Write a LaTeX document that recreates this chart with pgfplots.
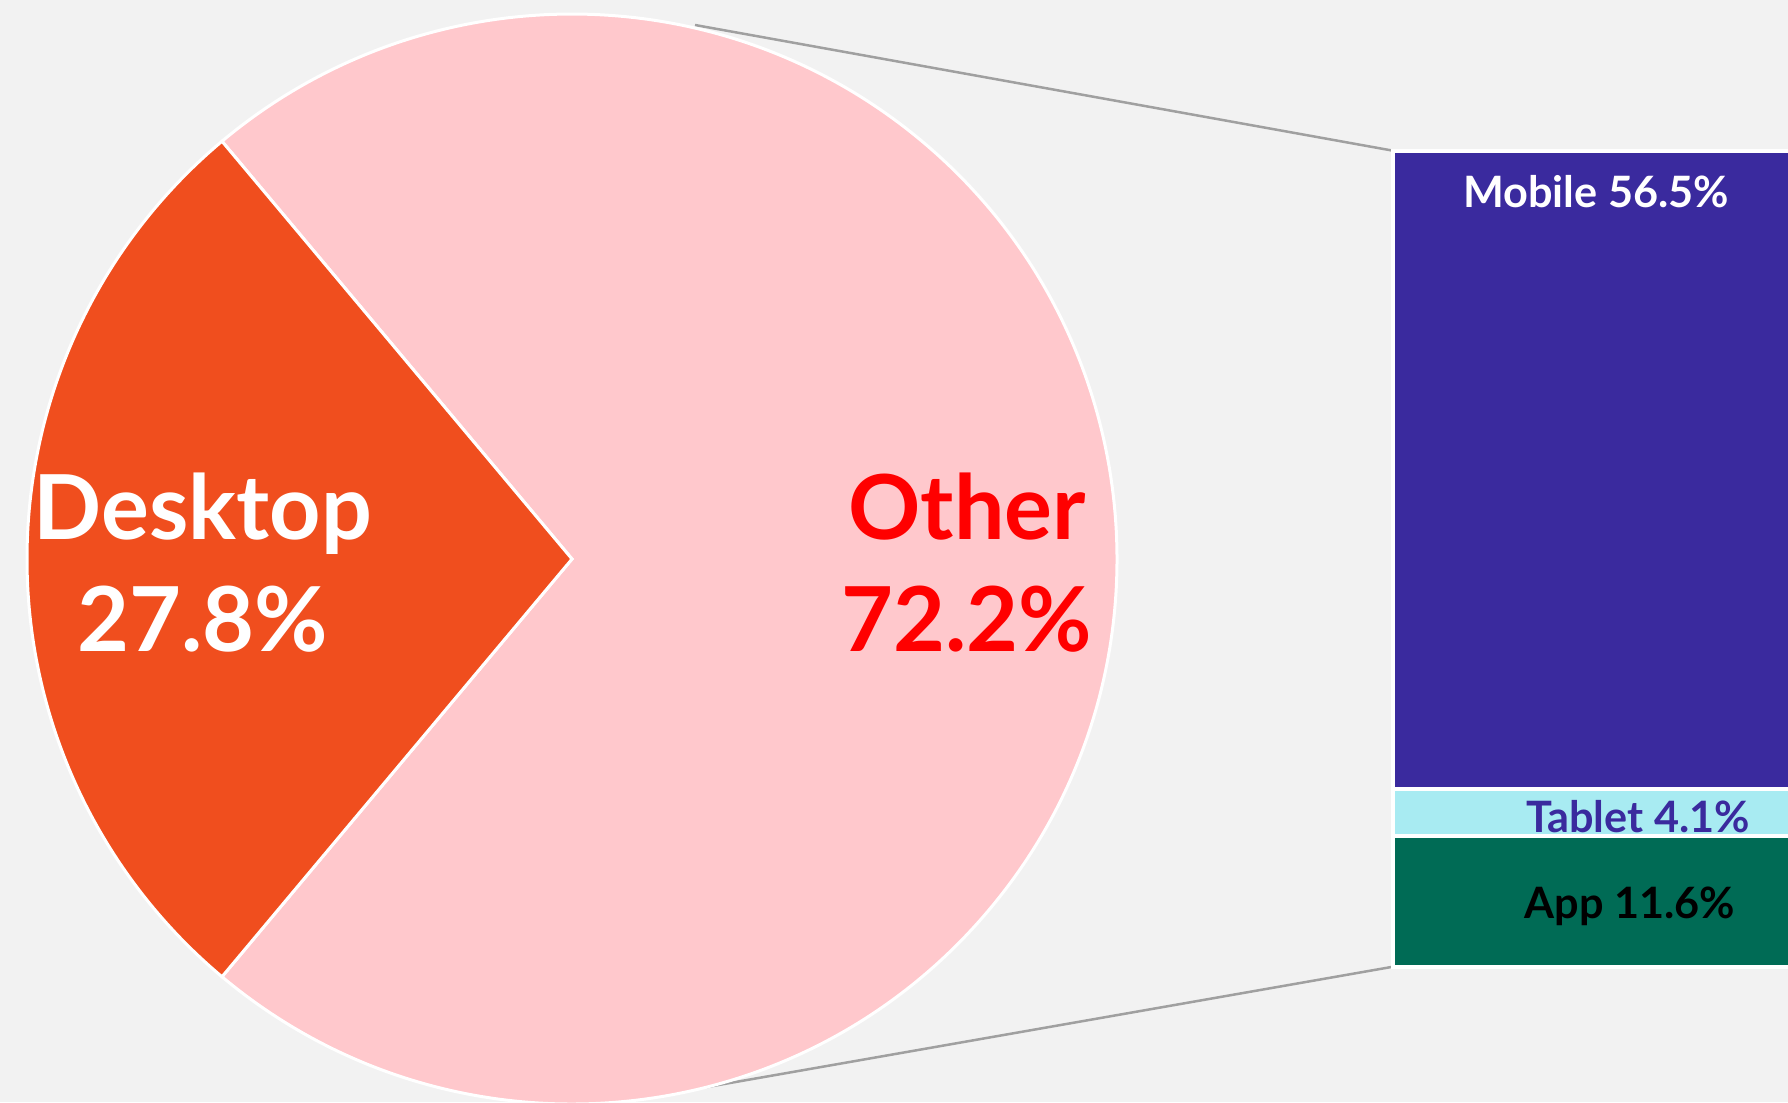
\documentclass[border=0pt]{standalone}
\usepackage{pgfplots}
\pgfplotsset{compat=1.18}
\usepackage{pgfplotstable}
\usepackage{fontspec}
\setmainfont{Lato}
\definecolor{bg}{HTML}{F2F2F2}
\definecolor{desk}{HTML}{F04E1E}
\definecolor{other}{HTML}{FFC8CC}
\definecolor{mob}{HTML}{3A2A9E}
\definecolor{tab}{HTML}{A8EBF2}
\definecolor{app}{HTML}{006B55}
\definecolor{otxt}{HTML}{FF0000}
\definecolor{conn}{HTML}{A0A0A0}

\pgfplotstableread{
part share
Desktop 27.8
Other 72.2
}\pietable
\pgfplotstableread{
x app tablet mobile
0 11.6 4.1 56.5
}\bartable

\begin{document}
\begin{tikzpicture}
\useasboundingbox (0,0) rectangle (178.8mm,110.2mm);
\clip (0,0) rectangle (178.8mm,110.2mm);
\fill[bg] (0,0) rectangle (178.8mm,110.2mm);

\pgfplotstablegetelem{0}{share}\of\pietable
\pgfmathsetmacro{\half}{\pgfplotsretval*1.8}
\pgfmathsetmacro{\aA}{180-\half}
\pgfmathsetmacro{\aB}{180+\half}
\pgfmathsetmacro{\aC}{180-\half+360}

\begin{axis}[at={(0mm,0mm)}, anchor=south west, width=178.8mm, height=110.2mm,
  scale only axis, xmin=0, xmax=1788, ymin=0, ymax=1102, hide axis, clip=false]
\addplot[draw=none] coordinates {(0,0) (1788,1102)};
\draw[conn, line width=0.25mm] (axis cs:695,1077) -- (axis cs:1393,951.3);
\draw[conn, line width=0.25mm] (axis cs:707,15) -- (axis cs:1393,135.3);
\path[fill=other, draw=white, line width=0.3mm] (axis cs:572,543) -- ++(\aB:54.5mm)
  arc[start angle=\aB, end angle=\aC, radius=54.5mm] -- cycle;
\path[fill=desk, draw=white, line width=0.3mm] (axis cs:572,543) -- ++(\aA:54.5mm)
  arc[start angle=\aA, end angle=\aB, radius=54.5mm] -- cycle;
\end{axis}

\begin{axis}[at={(139.3mm,13.53mm)}, anchor=south west, width=40.6mm, height=81.6mm,
  scale only axis, xmin=-0.5, xmax=0.5, ymin=0, ymax=72.2, hide axis,
  ybar stacked, bar width=40.6mm, clip=false]
\addplot[fill=app, draw=white, line width=0.4mm] table[x=x,y=app]{\bartable};
\addplot[fill=tab, draw=white, line width=0.4mm] table[x=x,y=tablet]{\bartable};
\addplot[fill=mob, draw=white, line width=0.4mm] table[x=x,y=mobile]{\bartable};
\end{axis}

\begin{scope}[x=0.1mm,y=0.1mm]
\tikzset{big/.style={anchor=base, font=\bfseries\fontsize{25.5}{30}\selectfont},
         small/.style={anchor=base, font=\bfseries\fontsize{12.3}{15}\selectfont}}
\node[big, text=white] at (203,562) {Desktop};
\node[big, text=white] at (203,451) {27.8\%};
\node[big, text=otxt] at (967,562) {Other};
\node[big, text=otxt] at (967,451) {72.2\%};
\node[small, text=white] at (1596,894) {Mobile 56.5\%};
\node[small, text=mob] at (1638,270) {Tablet 4.1\%};
\node[small, text=black] at (1630,184) {App 11.6\%};
\end{scope}
\end{tikzpicture}
\end{document}
